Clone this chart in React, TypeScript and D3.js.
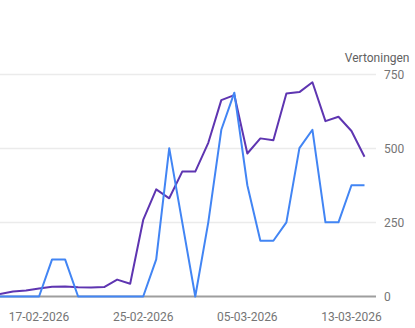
import React from "react";
import * as d3 from "d3";

const dates = [
  "14-02-2026","15-02-2026","16-02-2026","17-02-2026","18-02-2026","19-02-2026","20-02-2026",
  "21-02-2026","22-02-2026","23-02-2026","24-02-2026","25-02-2026","26-02-2026","27-02-2026",
  "28-02-2026","01-03-2026","02-03-2026","03-03-2026","04-03-2026","05-03-2026","06-03-2026",
  "07-03-2026","08-03-2026","09-03-2026","10-03-2026","11-03-2026","12-03-2026","13-03-2026",
  "14-03-2026",
];
const purpleSeries = [
  8, 17, 20, 27, 33, 34, 31, 30, 32, 57, 43, 258, 361, 331, 421, 421, 518, 662, 679, 482,
  533, 527, 684, 689, 722, 591, 606, 558, 471,
];
const blueSeries = [
  0, 0, 0, 0, 125, 125, 0, 0, 0, 0, 0, 0, 125, 500, 250, 0, 250, 562, 687, 375,
  188, 188, 250, 500, 562, 250, 250, 375, 375,
];
const yTicks = [0, 250, 500, 750];
const xTickLabels = ["17-02-2026", "25-02-2026", "05-03-2026", "13-03-2026"];
const yTitle = "Vertoningen";

const W = 415;
const H = 328;
const FONT = "Roboto, 'Noto Sans', sans-serif";

export default function App() {
  const x = d3.scaleLinear().domain([0, dates.length - 1]).range([0, 364.5]);
  const y = d3.scaleLinear().domain([0, 750]).range([296.5, 74]);
  const line = d3
    .line<number>()
    .x((_, i) => x(i))
    .y((d) => y(d));

  return (
    <div style={{ position: "fixed", left: 0, top: 0, width: W, height: H, background: "#fff" }}>
      <svg width={W} height={H} style={{ display: "block" }} fontFamily={FONT}>
        {yTicks
          .filter((t) => t !== 0)
          .map((t) => (
            <line key={t} x1={0} x2={376} y1={Math.round(y(t)) + 0.5} y2={Math.round(y(t)) + 0.5} stroke="#ebebeb" strokeWidth={1.5} />
          ))}
        <line x1={0} x2={376} y1={y(0)} y2={y(0)} stroke="#9e9e9e" strokeWidth={2} />
        <path d={line(purpleSeries) || ""} fill="none" stroke="#5e35b1" strokeWidth={2} strokeLinejoin="round" />
        <path d={line(blueSeries) || ""} fill="none" stroke="#4285f4" strokeWidth={2} strokeLinejoin="round" />
        {yTicks.map((t) => (
          <text key={t} x={384} y={y(t) + 4.5} fontSize={12} fill="#757575">
            {t}
          </text>
        ))}
        <text x={409.5} y={62} fontSize={12} fill="#616161" textAnchor="end">
          {yTitle}
        </text>
        {xTickLabels.map((lab) => (
          <text key={lab} x={x(dates.indexOf(lab))} y={321} fontSize={12} fill="#757575" textAnchor="middle">
            {lab}
          </text>
        ))}
      </svg>
    </div>
  );
}
